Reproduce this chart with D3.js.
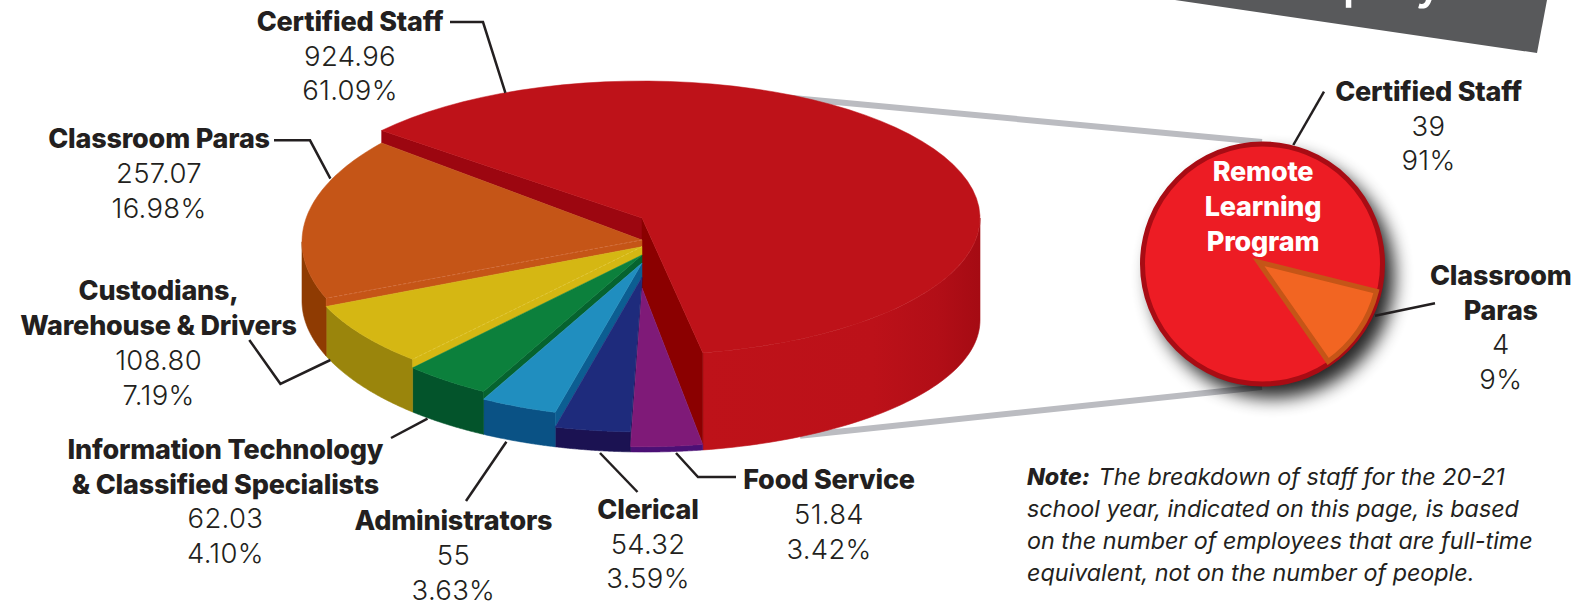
<!DOCTYPE html>
<html><head><meta charset="utf-8">
<script src="https://cdn.jsdelivr.net/npm/d3@7/dist/d3.min.js"></script>
<style>
html,body{margin:0;padding:0;background:#fff;overflow:hidden}
svg{display:block}
text{font-family:Inter,"Open Sans",sans-serif;fill:#231F20}
.name{font-weight:800;font-size:27px;letter-spacing:-0.2px}
.num{font-weight:350;font-size:27.5px;letter-spacing:0.3px}
.note{font-style:italic;font-size:23.3px}
</style></head><body>
<script>
// ---- data, clockwise from the Certified Staff wedge
const categories = ["Certified Staff","Food Service","Clerical","Administrators","Information Technology & Classified Specialists","Custodians, Warehouse & Drivers","Classroom Paras"];
const staffValues = [924.96,51.84,54.32,55,62.03,108.80,257.07];
const valueLabels = ["924.96","51.84","54.32","55","62.03","108.80","257.07"];
const percentLabels = ["61.09%","3.42%","3.59%","3.63%","4.10%","7.19%","16.98%"];
const remoteCategories = ["Certified Staff","Classroom Paras"];
const remoteValues = ["39","4"];
const remotePercents = ["91%","9%"];
// wedge shares as actually drawn in the picture (the orange wedge spans about 41 degrees)
const remoteDrawnShares = [88.6,11.4];
const noteLines = ["The breakdown of staff for the 20-21","school year, indicated on this page, is based","on the number of employees that are full-time","equivalent, not on the number of people."];

// ---- styles
const topColors  = ["#BE1219","#7F1A78","#1E2B7C","#208EBF","#0C803C","#D5B713","#C55517"];
const wallColors = ["url(#redWall)","#4B1075","#1B1252","#0A5285","#03542B","#9A850C","#8F3B02"];
const edgeColors = ["#8B0000","#8B0000","#1B1252","#0C5E92","#06632F","#D5B713","#C55517"];
const closeEdge = "#9C0610";

// ---- stepped-pie layout: every wedge has its own tilt and height
const W=1574,H=606,cx=642;
const rxAt=a=>338+2*Math.pow(Math.max(0,-Math.sin(a)),6);
const rimCy=[218,301.8,288.9,259.6,251,254.3,241.8];
const rimRy=[137,145,143,158,159,142.9,154.7];
const apexY=[218,288,277,263,255,246.7,240];
const baseCy=310.5,baseRy=141.5,baseSkew=9.5,baseBulge=4;

const svg=d3.select("body").append("svg").attr("width",W).attr("height",H).attr("viewBox",`0 0 ${W} ${H}`);
const defs=svg.append("defs");
const g=defs.append("linearGradient").attr("id","redWall").attr("gradientUnits","userSpaceOnUse").attr("x1",700).attr("x2",980).attr("y1",0).attr("y2",0);
[[0,"#BE1219"],[0.62,"#BC1119"],[0.85,"#B20E17"],[1,"#A50B13"]].forEach(s=>g.append("stop").attr("offset",s[0]).attr("stop-color",s[1]));
const f=defs.append("filter").attr("id","blur").attr("x","-30%").attr("y","-30%").attr("width","160%").attr("height","160%");
f.append("feGaussianBlur").attr("stdDeviation",9);

// banner
svg.append("polygon").attr("points",[[1175,0],[1537,53],[1547,0]].join(" ")).attr("fill","#58595B");
svg.append("text").attr("x",1398).attr("y",-2).attr("text-anchor","middle").style("font-size","50px").style("font-weight",500).style("fill","#fff").text("Employees");

// grey connector bands (their ends run under the pies)
const band=[[[790,97.7],[1262,142]],[[800,435.8],[1262,387]]];
svg.selectAll("line.band").data(band).join("line").attr("class","band")
  .attr("x1",d=>d[0][0]).attr("y1",d=>d[0][1]).attr("x2",d=>d[1][0]).attr("y2",d=>d[1][1])
  .attr("stroke","#BBBCC1").attr("stroke-width",6);

// ---- main pie
const start=-50.3*Math.PI/180;
const arcs=d3.pie().sort(null).startAngle(start).endAngle(start+2*Math.PI)(staffValues);
const rimPt=(i,a)=>[cx+rxAt(a)*Math.sin(a),rimCy[i]-rimRy[i]*Math.cos(a)];
const basePt=a=>[cx+rxAt(a)*Math.sin(a),baseCy-baseRy*Math.cos(a)+baseSkew*Math.sin(a)+baseBulge*Math.sin(2*a)];
const samples=(a,b)=>d3.range(0,61).map(k=>a+(b-a)*k/60);
const line=d3.line();
const pie=svg.append("g");

// outer walls (only the front half of the rim is visible)
arcs.forEach((d,i)=>{
  const a0=Math.max(d.startAngle,Math.PI/2),a1=Math.min(d.endAngle,1.5*Math.PI);
  if(a1<=a0) return;
  const s=samples(a0,a1);
  const pts=s.map(a=>rimPt(i,a)).concat(s.slice().reverse().map(basePt));
  pie.append("path").attr("d",line(pts)+"Z").attr("fill",wallColors[i]).attr("stroke",wallColors[i]).attr("stroke-width",0.6);
});
// inner cut walls between neighbouring wedges of different height
arcs.forEach((d,i)=>{
  const prev=i===0?arcs.length-1:i-1;
  const a=d.startAngle;
  const c=i===0?closeEdge:edgeColors[i];
  pie.append("path").attr("d",line([[cx,apexY[i]],rimPt(i,a),rimPt(prev,a),[cx,apexY[prev]]])+"Z").attr("fill",c).attr("stroke",c).attr("stroke-width",0.5);
});
// top faces
arcs.forEach((d,i)=>{
  const pts=[[cx,apexY[i]]].concat(samples(d.startAngle,d.endAngle).map(a=>rimPt(i,a)));
  pie.append("path").attr("d",line(pts)+"Z").attr("fill",topColors[i]).attr("stroke",topColors[i]).attr("stroke-width",0.5);
});
// faint hairlines where the orange and yellow faces end
[[5,"#E4CC45"],[6,"#D9794A"]].forEach(([i,c])=>{
  const a=arcs[i].startAngle;
  pie.append("path").attr("d",line([[cx,apexY[i]],rimPt(i,a)])).attr("fill","none").attr("stroke",c).attr("stroke-width",0.7).attr("stroke-dasharray","3 2");
});

// ---- remote learning pie
const rc=[1262.5,264],rr=120;
const rGroup=svg.append("g");
rGroup.append("circle").attr("cx",rc[0]+10).attr("cy",rc[1]+12).attr("r",rr+2).attr("fill","#000").attr("opacity",0.85).attr("filter","url(#blur)");
rGroup.append("circle").attr("cx",rc[0]).attr("cy",rc[1]).attr("r",rr).attr("fill","#ED1C24").attr("stroke","#A80C14").attr("stroke-width",5);
const rStart=145*Math.PI/180;
const rArcs=d3.pie().sort(null).startAngle(rStart).endAngle(rStart+2*Math.PI)(remoteDrawnShares);
rGroup.append("path").attr("transform",`translate(${rc[0]-4},${rc[1]-2})`)
  .attr("d",d3.arc().innerRadius(0).outerRadius(rr+1.5)({startAngle:rArcs[1].startAngle,endAngle:rArcs[1].endAngle}))
  .attr("fill","#F26522").attr("stroke","#C55517").attr("stroke-width",5).attr("stroke-linejoin","miter");

// ---- leader lines
const leaders=[
 [[450,22],[483,22],[505.4,92.8]],
 [[274,140.3],[310,140.3],[330.4,178.6]],
 [[249.3,340],[280.4,383.8],[330.4,360]],
 [[391,438],[427.5,418.6]],
 [[466,501],[506.4,441.8]],
 [[600,453],[637.5,492]],
 [[676,453],[698,477],[736,477]],
 [[1324,91.7],[1293.3,145]],
 [[1435,303.3],[1375,315.7]]
];
svg.selectAll("path.leader").data(leaders).join("path").attr("class","leader")
  .attr("d",d=>line(d)).attr("fill","none").attr("stroke","#231F20").attr("stroke-width",2.5);

// ---- labels
function label(x,y,names,rows){
  const t=svg.append("g");
  let yy=y+0.7;
  names.forEach(n=>{t.append("text").attr("class","name").attr("x",x).attr("y",yy).attr("text-anchor","middle").text(n);yy+=34.8;});
  rows.forEach(n=>{t.append("text").attr("class","num").attr("x",x).attr("y",yy).attr("text-anchor","middle").text(n);yy+=34.8;});
}
label(350,30,[categories[0]],[valueLabels[0],percentLabels[0]]);
label(159,147.7,[categories[6]],[valueLabels[6],percentLabels[6]]);
label(158.6,299.6,["Custodians,","Warehouse & Drivers"],[valueLabels[5],percentLabels[5]]);
label(225.4,458,["Information Technology","& Classified Specialists"],[valueLabels[4],percentLabels[4]]);
label(453.4,529.6,[categories[3]],[valueLabels[3],percentLabels[3]]);
label(648,518,[categories[2]],[valueLabels[2],percentLabels[2]]);
label(829,488.5,[categories[1]],[valueLabels[1],percentLabels[1]]);
label(1428.5,100,[remoteCategories[0]],[remoteValues[0],remotePercents[0]]);
label(1500.8,284,["Classroom","Paras"],[remoteValues[1],remotePercents[1]]);
["Remote","Learning","Program"].forEach((t,i)=>svg.append("text").attr("class","name").attr("x",1263).attr("y",180.7+35*i).attr("text-anchor","middle").style("fill","#fff").text(t));

// ---- note
const note=svg.append("g");
const nt=note.append("text").attr("class","note").attr("x",1027).attr("y",485);
nt.append("tspan").style("font-weight",800).text("Note:");
nt.append("tspan").attr("dx",2).text(" "+noteLines[0]);
noteLines.slice(1).forEach((l,i)=>note.append("text").attr("class","note").attr("x",1027).attr("y",516.7+31.9*i).text(l));
</script></body></html>
